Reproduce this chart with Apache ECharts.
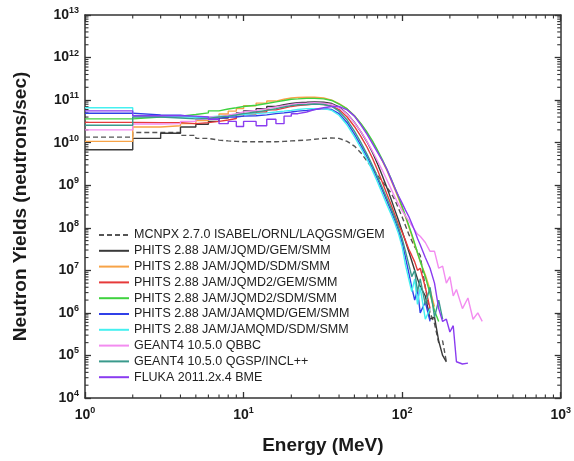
<!DOCTYPE html>
<html>
<head>
<meta charset="utf-8">
<script src="https://cdn.jsdelivr.net/npm/echarts@6/dist/echarts.min.js"></script>
<style>
html,body{margin:0;padding:0;background:#fff}
#chart{width:574px;height:461px}
</style>
</head>
<body>
<div id="chart"></div>
<script>
// histogram bin edges (low energy part), MeV
var binEdges = [1,2,3,4,5,6,7,8,9,10,12,14,16,18,20,22,25];
// energies of the finer part of the spectra, MeV
var tailEnergy = [28,32,36,40,45,50,55,60,65,70,75,80,85,90,95,100,105,110,115,120,125,130,140,150,160,170,180,190,200,210,220,240,260,280,300,320];

var names = [
  'MCNPX 2.7.0 ISABEL/ORNL/LAQGSM/GEM',
  'PHITS 2.88 JAM/JQMD/GEM/SMM',
  'PHITS 2.88 JAM/JQMD/SDM/SMM',
  'PHITS 2.88 JAM/JQMD2/GEM/SMM',
  'PHITS 2.88 JAM/JQMD2/SDM/SMM',
  'PHITS 2.88 JAM/JAMQMD/GEM/SMM',
  'PHITS 2.88 JAM/JAMQMD/SDM/SMM',
  'GEANT4 10.5.0 QBBC',
  'GEANT4 10.5.0 QGSP/INCL++',
  'FLUKA 2011.2x.4 BME'
];
var colors = ['#555555','#3a3a3a','#f7a347','#e63a3a','#3fd23f','#3040e8','#45f0f0','#f38cf0','#3a9a8c','#8a3cf0'];

// neutron yields (neutrons/sec)
var mcnpxLow = [1.35e10,1.74e10,1.74e10,1.48e10,1.26e10,1.15e10,1.10e10,1.07e10,1.05e10,1.05e10,1.05e10,1.05e10,1.07e10,1.10e10,1.12e10,1.15e10];
var mcnpxHigh = [1.2e10,1.26e10,1.29e10,1.26e10,1.07e10,8.3e9,5.75e9,3.7e9,2.5e9,1.7e9,1.2e9,8.9e8,6.6e8,4.5e8,2.8e8,1.8e8,1.12e8,7.1e7,5.0e7,3.55e7,2.8e7,2.24e7,4.0e6,1.0e6,5.6e5,2.0e5,2.2e5,7.1e4];

var jqmdGemLow = [6.8e9,1.26e10,1.66e10,2.34e10,2.7e10,3.16e10,3.8e10,4.37e10,5.0e10,5.6e10,6.3e10,7.1e10,7.8e10,8.3e10,8.7e10,8.9e10];
var jqmdGemHigh = [9.1e10,8.9e10,8.3e10,6.9e10,4.8e10,3.0e10,1.8e10,1.05e10,5.9e9,3.16e9,1.66e9,8.9e8,4.8e8,2.6e8,1.48e8,8.3e7,4.8e7,2.8e7,1.66e7,1.0e7,6.3e6,4.2e6,2.5e6,7.1e5,7.9e5,2.2e5,1.0e5,7.1e4];

var jqmdSdmLow = [1.07e10,2.34e10,2.5e10,2.8e10,3.3e10,4.0e10,4.7e10,5.5e10,6.3e10,7.4e10,8.5e10,9.5e10,1.05e11,1.12e11,1.15e11,1.17e11];
var jqmdSdmHigh = [1.17e11,1.12e11,1.0e11,8.3e10,6.2e10,4.3e10,2.75e10,1.7e10,1.05e10,6.3e9,3.7e9,2.24e9,1.32e9,7.9e8,4.8e8,2.9e8,1.8e8,1.07e8,6.6e7,4.0e7,2.5e7,1.6e7,7.9e6,3.5e6,1.4e6];

var jqmd2GemLow = [3.0e10,2.95e10,2.95e10,2.8e10,2.95e10,3.16e10,3.4e10,3.7e10,4.2e10,4.7e10,5.25e10,5.9e10,6.5e10,7.1e10,7.4e10,7.8e10];
var jqmd2GemHigh = [8.1e10,7.9e10,7.2e10,6.0e10,4.0e10,2.4e10,1.38e10,7.9e9,4.3e9,2.24e9,1.17e9,6.3e8,3.55e8,2.0e8,1.17e8,7.9e7,5.0e7,3.16e7,2.24e7,1.58e7,1.0e7,1.12e7,4.0e6,1.26e6];

var jqmd2SdmLow = [3.63e10,4.0e10,4.2e10,4.6e10,5.0e10,5.6e10,6.2e10,6.6e10,7.1e10,7.6e10,8.3e10,9.1e10,9.8e10,1.05e11,1.07e11,1.1e11];
var jqmd2SdmHigh = [1.1e11,1.07e11,9.8e10,8.1e10,6.2e10,4.3e10,2.8e10,1.78e10,1.1e10,6.6e9,4.0e9,2.4e9,1.45e9,8.7e8,5.25e8,3.16e8,1.9e8,1.15e8,7.1e7,4.3e7,2.6e7,1.66e7,7.1e6,2.8e6,1.12e6,6.3e5];

var jamqmdGemLow = [4.9e10,4.5e10,4.4e10,4.0e10,3.8e10,3.8e10,4.0e10,4.0e10,4.2e10,4.3e10,4.5e10,4.8e10,5.0e10,5.25e10,5.5e10,5.75e10];
var jamqmdGemHigh = [6.0e10,6.3e10,6.0e10,4.8e10,2.95e10,1.58e10,8.5e9,4.7e9,2.5e9,1.38e9,7.6e8,4.3e8,2.5e8,1.48e8,8.5e7,4.5e7,2.0e7,8.9e6,4.0e6,2.0e6,3.55e6,1.0e6,1.8e6,6.3e5];

var jamqmdSdmLow = [6.6e10,4.2e10,4.0e10,4.0e10,4.0e10,4.2e10,4.3e10,4.5e10,4.6e10,4.8e10,5.0e10,5.25e10,5.5e10,5.75e10,6.0e10,6.3e10];
var jamqmdSdmHigh = [6.3e10,6.3e10,5.75e10,4.4e10,2.6e10,1.38e10,7.4e9,4.1e9,2.2e9,1.17e9,6.3e8,3.55e8,2.1e8,1.26e8,7.1e7,3.55e7,1.32e7,6.3e6,3.16e6,6.3e6,1.58e6,4.0e6,7.1e5,1.26e6];

var qbbcLow = [2.0e10,2.75e10,2.8e10,3.16e10,3.55e10,4.0e10,4.4e10,4.8e10,5.25e10,5.75e10,6.3e10,6.9e10,7.4e10,7.9e10,8.3e10,8.5e10];
var qbbcHigh = [8.7e10,8.5e10,7.9e10,6.6e10,4.7e10,2.95e10,1.82e10,1.07e10,6.3e9,3.7e9,2.24e9,1.35e9,8.3e8,5.25e8,3.55e8,2.5e8,1.9e8,1.48e8,1.12e8,8.9e7,7.1e7,6.3e7,4.5e7,2.8e7,2.8e7,1.12e7,1.26e7,5.0e6,7.1e6,2.5e6,3.55e6,1.26e6,2.24e6,7.1e5,1.0e6,6.3e5];

var inclLow = [2.57e10,4.0e10,3.8e10,3.63e10,3.7e10,4.0e10,4.2e10,4.5e10,4.8e10,5.25e10,5.75e10,6.3e10,6.9e10,7.4e10,7.8e10,7.9e10];
var inclHigh = [8.1e10,7.9e10,7.1e10,5.5e10,3.4e10,1.86e10,1.0e10,5.4e9,2.9e9,1.58e9,8.7e8,5.0e8,2.9e8,1.7e8,1.0e8,5.6e7,2.8e7,1.4e7,7.1e6,1.0e7,3.16e6,6.3e6,1.58e6,4.0e6,7.9e5,2.0e6,7.1e5];

var flukaLow = [5.6e10,4.3e10,4.3e10,4.2e10,4.0e10,3.55e10,2.8e10,3.16e10,2.4e10,3.16e10,2.5e10,3.55e10,2.8e10,4.2e10,4.8e10,5.25e10];
var flukaHigh = [6.0e10,6.6e10,7.1e10,7.1e10,5.9e10,4.2e10,2.6e10,1.58e10,9.5e9,5.9e9,3.8e9,2.4e9,1.41e9,8.5e8,5.6e8,3.8e8,2.6e8,1.86e8,1.26e8,8.5e7,5.6e7,4.0e7,2.0e7,1.12e7,5.0e6,1.26e6,6.3e5,7.1e5,3.55e5,5.0e5,7.1e4,6.3e4,6.6e4];

var lowSets = [mcnpxLow,jqmdGemLow,jqmdSdmLow,jqmd2GemLow,jqmd2SdmLow,jamqmdGemLow,jamqmdSdmLow,qbbcLow,inclLow,flukaLow];
var highSets = [mcnpxHigh,jqmdGemHigh,jqmdSdmHigh,jqmd2GemHigh,jqmd2SdmHigh,jamqmdGemHigh,jamqmdSdmHigh,qbbcHigh,inclHigh,flukaHigh];

// minor ticks of the log axes
var minorMult = [2,3,4,5,6,7,8,9];
var xDecades = [1,10,100];
var yDecades = [1e4,1e5,1e6,1e7,1e8,1e9,1e10,1e11,1e12];

var chart = echarts.init(document.getElementById('chart'));

// histogram bins drawn as steps, then the fine part as a line
function buildData(low, high){
  var pts = [];
  for (var i = 0; i < low.length; i++) {
    pts.push([binEdges[i], low[i]]);
    pts.push([binEdges[i+1], low[i]]);
  }
  for (var j = 0; j < high.length; j++) {
    pts.push([tailEnergy[j], high[j]]);
  }
  return pts;
}

var font = 'Liberation Sans, Arial, sans-serif';
var labelRich = {
  b: {fontSize: 14, fontWeight: 'bold', fontFamily: font, color: '#1a1a1a', lineHeight: 18},
  s: {fontSize: 9, fontWeight: 'bold', fontFamily: font, color: '#1a1a1a', lineHeight: 10, verticalAlign: 'top'}
};
function powLabel(v){
  var e = Math.round(Math.log(v) / Math.LN10);
  return '{b|10}{s|' + e + '}';
}

var axisLine = {lineStyle: {color: '#333', width: 1.5}};
var majorTick = {inside: true, length: 6, lineStyle: {color: '#333', width: 1.3}};

var series = [];
for (var k = 0; k < names.length; k++) {
  series.push({
    name: names[k],
    type: 'line',
    xAxisIndex: 0,
    yAxisIndex: 0,
    data: buildData(lowSets[k], highSets[k]),
    showSymbol: false,
    symbol: 'none',
    lineStyle: {color: colors[k], width: 1.4, type: k === 0 ? [5, 3] : 'solid'},
    itemStyle: {color: colors[k]},
    emphasis: {disabled: true}
  });
}

// minor tick marks on all four sides
var xMinor = [], yMinor = [];
xDecades.forEach(function(d){ minorMult.forEach(function(m){ xMinor.push([d * m, 1e4]); }); });
yDecades.forEach(function(d){ minorMult.forEach(function(m){ yMinor.push([1, d * m]); }); });

series.push({
  type: 'custom',
  silent: true,
  clip: false,
  data: xMinor,
  renderItem: function(params, api){
    var x = api.value(0);
    var b = api.coord([x, 1e4]);
    var t = api.coord([x, 1e13]);
    var st = {stroke: '#333', lineWidth: 1.1};
    return {type: 'group', children: [
      {type: 'line', shape: {x1: b[0], y1: b[1], x2: b[0], y2: b[1] - 3.5}, style: st},
      {type: 'line', shape: {x1: t[0], y1: t[1], x2: t[0], y2: t[1] + 3.5}, style: st}
    ]};
  }
});
series.push({
  type: 'custom',
  silent: true,
  clip: false,
  data: yMinor,
  renderItem: function(params, api){
    var y = api.value(1);
    var l = api.coord([1, y]);
    var r = api.coord([1000, y]);
    var st = {stroke: '#333', lineWidth: 1.1};
    return {type: 'group', children: [
      {type: 'line', shape: {x1: l[0], y1: l[1], x2: l[0] + 3.5, y2: l[1]}, style: st},
      {type: 'line', shape: {x1: r[0], y1: r[1], x2: r[0] - 3.5, y2: r[1]}, style: st}
    ]};
  }
});

var option = {
  animation: false,
  backgroundColor: '#fff',
  grid: {left: 85, right: 13, top: 15, bottom: 63},
  legend: {
    data: names,
    orient: 'vertical',
    left: 98,
    top: 228,
    padding: 0,
    itemWidth: 30,
    itemHeight: 12,
    itemGap: 1.8,
    itemStyle: {opacity: 0},
    textStyle: {fontSize: 12.5, fontFamily: font, color: '#222', lineHeight: 14},
    selectedMode: false
  },
  xAxis: [{
    type: 'log', logBase: 10, min: 1, max: 1000, interval: 1,
    position: 'bottom',
    name: 'Energy (MeV)', nameLocation: 'middle', nameGap: 38,
    nameTextStyle: {fontSize: 19, fontWeight: 'bold', fontFamily: font, color: '#1a1a1a'},
    axisLine: axisLine, axisTick: majorTick,
    axisLabel: {margin: 8, formatter: powLabel, rich: labelRich},
    splitLine: {show: false}
  }, {
    type: 'log', logBase: 10, min: 1, max: 1000, interval: 1,
    position: 'top',
    axisLine: axisLine, axisTick: majorTick,
    axisLabel: {show: false},
    splitLine: {show: false}
  }],
  yAxis: [{
    type: 'log', logBase: 10, min: 1e4, max: 1e13, interval: 1,
    position: 'left',
    name: 'Neutron Yields (neutrons/sec)', nameLocation: 'middle', nameGap: 55,
    nameTextStyle: {fontSize: 19, fontWeight: 'bold', fontFamily: font, color: '#1a1a1a'},
    axisLine: axisLine, axisTick: majorTick,
    axisLabel: {margin: 6, formatter: powLabel, rich: labelRich},
    splitLine: {show: false}
  }, {
    type: 'log', logBase: 10, min: 1e4, max: 1e13, interval: 1,
    position: 'right',
    axisLine: axisLine, axisTick: majorTick,
    axisLabel: {show: false},
    splitLine: {show: false}
  }],
  series: series
};

chart.setOption(option);
</script>
</body>
</html>
